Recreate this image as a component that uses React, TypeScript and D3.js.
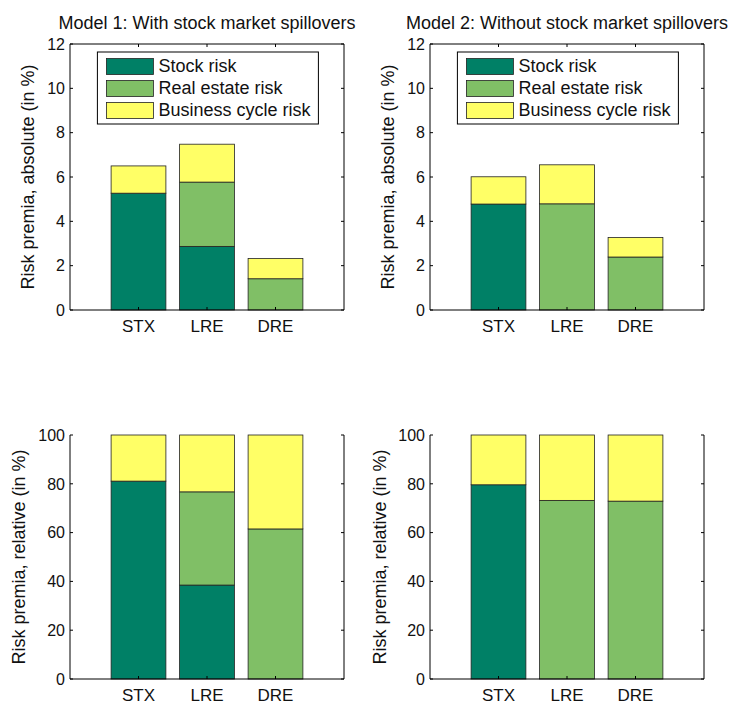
import React from "react";
import * as d3 from "d3";

// categories and series
const categories = ["STX", "LRE", "DRE"];
const seriesNames = ["Stock risk", "Real estate risk", "Business cycle risk"];
const seriesColors = ["#008066", "#80BF66", "#FFFF66"];

// Model 1, absolute (in %)
const m1AbsStock = [5.27, 2.87, 0];
const m1AbsReal = [0, 2.9, 1.41];
const m1AbsBiz = [1.23, 1.71, 0.91];
// Model 2, absolute (in %)
const m2AbsStock = [4.78, 0, 0];
const m2AbsReal = [0, 4.79, 2.39];
const m2AbsBiz = [1.23, 1.76, 0.88];
// Model 1, relative (in %)
const m1RelStock = [81.1, 38.5, 0];
const m1RelReal = [0, 38.2, 61.5];
const m1RelBiz = [18.9, 23.3, 38.5];
// Model 2, relative (in %)
const m2RelStock = [79.6, 0, 0];
const m2RelReal = [0, 73.2, 72.9];
const m2RelBiz = [20.4, 26.8, 27.1];

const absTicks = [0, 2, 4, 6, 8, 10, 12];
const relTicks = [0, 20, 40, 60, 80, 100];

const FONT = "'Liberation Sans', Arial, Helvetica, sans-serif";

type PanelProps = {
  left: number;
  top: number;
  width: number;
  height: number;
  stock: number[];
  real: number[];
  biz: number[];
  yMax: number;
  ticks: number[];
  yLabel: string;
  yLabelX: number;
  title?: string;
  legend?: boolean;
  topLine: boolean;
};

function Panel(p: PanelProps) {
  const rows = categories.map((c, i) => ({ cat: c, s0: p.stock[i], s1: p.real[i], s2: p.biz[i] }));
  const stack = d3.stack<any>().keys(["s0", "s1", "s2"])(rows);

  // categories at 1..3, xlim [0, 4], bar width 0.8
  const x = d3.scaleLinear().domain([0, 4]).range([0, p.width]);
  const y = d3.scaleLinear().domain([0, p.yMax]).range([p.height, 0]);
  const bw = x(0.8) - x(0);

  return (
    <g transform={`translate(${p.left},${p.top})`} fontFamily={FONT}>
      {p.title && (
        <text x={p.width / 2} y={-15} textAnchor="middle" fontSize={18} fill="#111">
          {p.title}
        </text>
      )}
      {stack.map((layer, li) =>
        layer.map((d, i) => (
          <rect
            key={`${li}-${i}`}
            x={x(i + 1) - bw / 2}
            y={y(d[1])}
            width={bw}
            height={Math.max(0, y(d[0]) - y(d[1]))}
            fill={seriesColors[li]}
            stroke="#222"
            strokeWidth={0.8}
          />
        ))
      )}
      {/* axes box */}
      <line x1={0} x2={0} y1={0} y2={p.height} stroke="#000" strokeWidth={1} />
      <line x1={0} x2={p.width} y1={p.height} y2={p.height} stroke="#000" strokeWidth={1} />
      <line x1={p.width} x2={p.width} y1={0} y2={p.height} stroke="#000" strokeWidth={1} />
      {p.topLine && <line x1={0} x2={p.width} y1={0} y2={0} stroke="#000" strokeWidth={1} />}
      {/* y ticks */}
      {p.ticks.map((t) => (
        <g key={t} transform={`translate(0,${y(t)})`}>
          <line x1={0} x2={3} stroke="#000" />
          <line x1={p.width} x2={p.width - 3} stroke="#000" />
          <text x={-5} dy="0.36em" textAnchor="end" fontSize={16} fill="#111">
            {t}
          </text>
        </g>
      ))}
      {/* x ticks */}
      {categories.map((c, i) => (
        <g key={c} transform={`translate(${x(i + 1)},0)`}>
          <line y1={p.height} y2={p.height - 3} stroke="#000" />
          {p.topLine && <line y1={0} y2={3} stroke="#000" />}
          <text y={p.height + 21.5} textAnchor="middle" fontSize={17} fill="#111">
            {c}
          </text>
        </g>
      ))}
      <text
        transform={`translate(${p.yLabelX},${p.height / 2}) rotate(-90)`}
        textAnchor="middle"
        dy="0.35em"
        fontSize={18}
        fill="#111"
      >
        {p.yLabel}
      </text>
      {p.legend && (
        <g transform={`translate(${x(0.4)},8)`}>
          <rect x={0} y={0} width={221} height={72} fill="#fff" stroke="#000" strokeWidth={1} />
          {seriesNames.map((n, i) => (
            <g key={n} transform={`translate(9,${6.5 + i * 22})`}>
              <rect width={47} height={16} fill={seriesColors[i]} stroke="#222" strokeWidth={0.8} />
              <text x={52} y={13.5} fontSize={18} fill="#111">
                {n}
              </text>
            </g>
          ))}
        </g>
      )}
    </g>
  );
}

export default function App() {
  const W = 274;
  return (
    <svg
      width={734}
      height={701}
      style={{ position: "absolute", left: 0, top: 0, background: "#fff" }}
    >
      <rect width={734} height={701} fill="#fff" />
      <Panel
        left={70}
        top={44}
        width={W}
        height={266}
        stock={m1AbsStock}
        real={m1AbsReal}
        biz={m1AbsBiz}
        yMax={12}
        ticks={absTicks}
        yLabel="Risk premia, absolute (in %)"
        yLabelX={-42}
        title="Model 1: With stock market spillovers"
        legend
        topLine
      />
      <Panel
        left={430}
        top={44}
        width={W}
        height={266}
        stock={m2AbsStock}
        real={m2AbsReal}
        biz={m2AbsBiz}
        yMax={12}
        ticks={absTicks}
        yLabel="Risk premia, absolute (in %)"
        yLabelX={-42}
        title="Model 2: Without stock market spillovers"
        legend
        topLine
      />
      <Panel
        left={70}
        top={435}
        width={W}
        height={244}
        stock={m1RelStock}
        real={m1RelReal}
        biz={m1RelBiz}
        yMax={100}
        ticks={relTicks}
        yLabel="Risk premia, relative (in %)"
        yLabelX={-51}
        topLine={false}
      />
      <Panel
        left={430}
        top={435}
        width={W}
        height={244}
        stock={m2RelStock}
        real={m2RelReal}
        biz={m2RelBiz}
        yMax={100}
        ticks={relTicks}
        yLabel="Risk premia, relative (in %)"
        yLabelX={-50}
        topLine={false}
      />
    </svg>
  );
}
